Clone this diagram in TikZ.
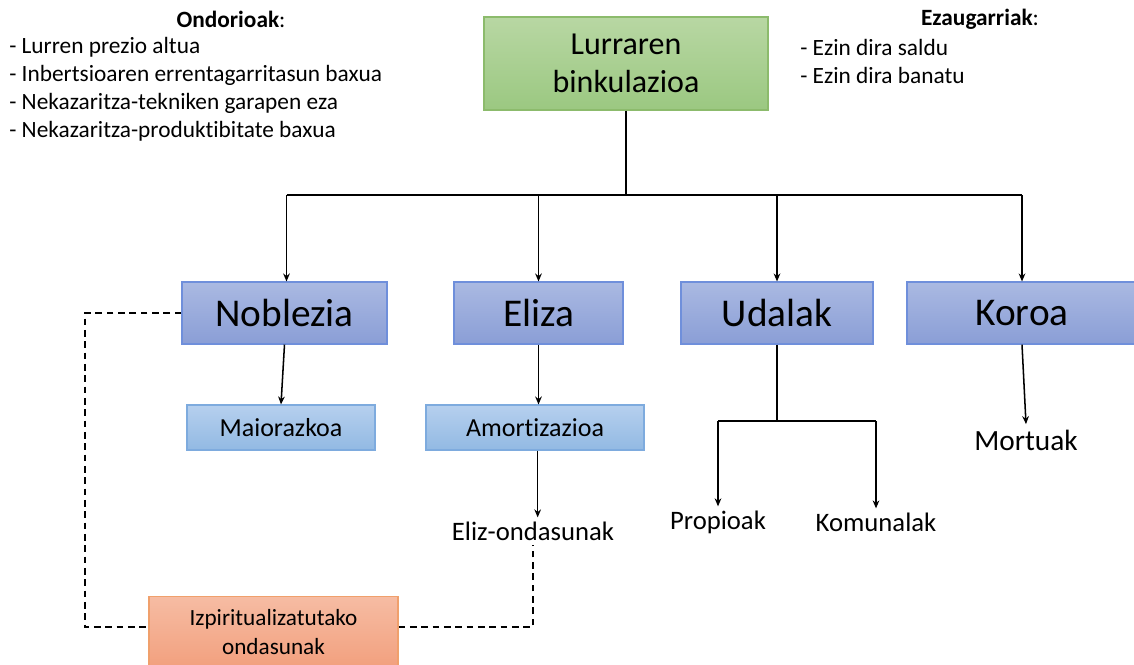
\documentclass[tikz,border=0pt]{standalone}
\usepackage{fontspec}
\setmainfont{Carlito}[Ligatures={NoCommon,NoRare}]
\usetikzlibrary{arrows.meta}
\definecolor{gtop}{HTML}{B8D7A3}
\definecolor{gbot}{HTML}{9BC881}
\definecolor{gbrd}{HTML}{8CBB6C}
\definecolor{btop}{HTML}{AAB9E2}
\definecolor{bbot}{HTML}{8A9ED6}
\definecolor{bbrd}{HTML}{6F8FDB}
\definecolor{ltop}{HTML}{B6D0EE}
\definecolor{lbot}{HTML}{92B9E3}
\definecolor{lbrd}{HTML}{7EABDE}
\definecolor{otop}{HTML}{F6BCA3}
\definecolor{obot}{HTML}{F2A07E}
\definecolor{obrd}{HTML}{F0A06C}
\tikzset{
  box/.style={draw, line width=0.8pt, inner sep=0pt, align=center},
  greenbox/.style={box, draw=gbrd, top color=gtop, bottom color=gbot, font=\fontsize{24}{29}\selectfont},
  bluebox/.style={box, draw=bbrd, top color=btop, bottom color=bbot, font=\fontsize{29.5}{35}\selectfont, minimum height=46.5pt},
  lightbox/.style={box, draw=lbrd, top color=ltop, bottom color=lbot, font=\fontsize{19.5}{23}\selectfont, minimum height=33.75pt},
  orangebox/.style={box, draw=obrd, top color=otop, bottom color=obot, font=\fontsize{17.4}{21.5}\selectfont},
  lbl/.style={inner sep=3pt, font=\fontsize{20}{24}\selectfont},
  listtxt/.style={inner sep=0pt, anchor=west, font=\fontsize{17.5}{21}\selectfont},
  conn/.style={line width=1.15pt, black},
  arr/.style={conn, -{Stealth[length=6pt,width=5pt]}},
  dsh/.style={line width=1pt, dash pattern=on 5pt off 3.5pt}
}
\begin{document}
\begin{tikzpicture}[x=0.75pt,y=-0.75pt]
\useasboundingbox (0,0) rectangle (1134,664);
% boxes
\node[greenbox, minimum width=213pt, minimum height=69.75pt] (lur) at (626,63.5) {Lurraren\\binkulazioa};
\node[bluebox, minimum width=153.75pt] (nob) at (284.5,313) {Noblezia};
\node[bluebox, minimum width=126.75pt] (eli) at (538.5,313) {Eliza};
\node[bluebox, minimum width=144pt] (uda) at (777,313) {Udalak};
\node[bluebox, minimum width=172.5pt] (kor) at (1022,313) {Koroa};
\node[lightbox, minimum width=141pt] (mai) at (281,427.5) {Maiorazkoa};
\node[lightbox, minimum width=163.5pt] (amo) at (535,427.5) {Amortizazioa};
\node[orangebox, minimum width=186.75pt, minimum height=53.25pt] (izp) at (273.5,632) {Izpiritualizatutako\\ondasunak};
% plain labels
\node[lbl] (eon) at (533,531) {Eliz-ondasunak};
\node[lbl] (pro) at (718,522) {Propioak};
\node[lbl] (kom) at (876,522) {Komunalak};
\node[lbl, inner sep=4pt, font=\fontsize{22}{26}\selectfont] (mor) at (1026,440) {Mortuak};
% top lists
\node[inner sep=0pt, font=\fontsize{17.5}{21}\selectfont] (ondt) at (231,19) {\textbf{Ondorioak}:};
\node[listtxt] (o1) at (9,47) {- Lurren prezio altua};
\node[listtxt] (o2) at (9,75) {- Inbertsioaren errentagarritasun baxua};
\node[listtxt] (o3) at (9,103) {- Nekazaritza-tekniken garapen eza};
\node[listtxt] (o4) at (9,131) {- Nekazaritza-produktibitate baxua};
\node[inner sep=0pt, font=\fontsize{17.5}{21}\selectfont] (ezt) at (980,19) {\textbf{Ezaugarriak}:};
\node[listtxt] (e1) at (800,47) {- Ezin dira saldu};
\node[listtxt] (e2) at (800,75) {- Ezin dira banatu};
% tree connectors
\coordinate (j) at (626,195);
\draw[conn] (lur.south) -- (j);
\draw[conn] ([xshift=1.5]nob.north |- j) -- (kor.north |- j);
\draw[arr] ([xshift=1.5]nob.north |- j) -- ([xshift=1.5]nob.north);
\draw[arr] (eli.north |- j) -- (eli.north);
\draw[arr] (uda.north |- j) -- (uda.north);
\draw[arr] (kor.north |- j) -- (kor.north);
\draw[arr] (nob.south) -- (mai.north);
\draw[arr] (eli.south) -- (eli.south |- amo.north);
\draw[arr] ([xshift=2]amo.south) -- ([xshift=2]amo.south |- eon.north);
\draw[arr] (kor.south) -- ([xshift=3]kor.south |- mor.north);
\coordinate (u1) at (777,421);
\draw[conn] (uda.south) -- (u1);
\draw[conn] (pro.north |- u1) -- (kom.north |- u1);
\draw[arr] (pro.north |- u1) -- (pro.north);
\draw[arr] (kom.north |- u1) -- (kom.north);
% dashed
\coordinate (dl) at (85,627);
\draw[dsh] (nob.west) -| (dl) -- (dl -| izp.west);
\draw[dsh] (izp.east |- dl) -| (eon.south);
\end{tikzpicture}
\end{document}
